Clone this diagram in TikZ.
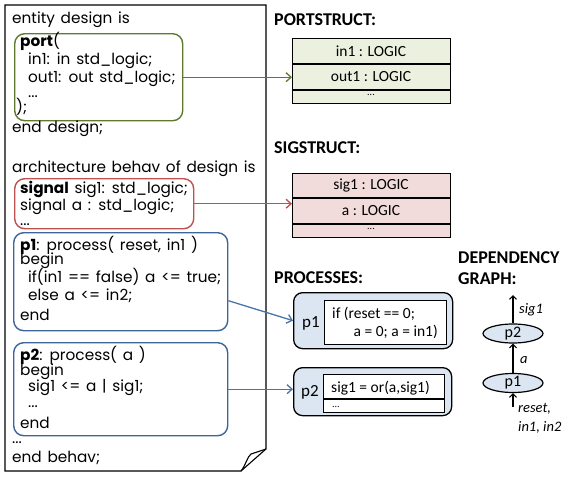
\documentclass[tikz,border=0pt]{standalone}
\usepackage{fontspec}
\setmainfont{Carlito}
\newfontfamily\codefont[WordSpace=1.4]{Poppins}
\usetikzlibrary{arrows.meta,shapes.geometric}

\definecolor{portgreen}{HTML}{5E7A2F}
\definecolor{sigred}{HTML}{C0504D}
\definecolor{procblue}{HTML}{3D6598}
\definecolor{arrowblue}{HTML}{4A74A8}
\definecolor{portfill}{HTML}{EBF1DE}
\definecolor{sigfill}{HTML}{F2DCDB}
\definecolor{procfill}{HTML}{DCE6F2}

\tikzset{
  code/.style={anchor=base west, inner sep=0pt, font=\codefont\fontsize{15.3}{17}\selectfont},
  codebox/.style={draw=#1, line width=1.4pt, rounded corners=10pt, anchor=north west, inner sep=0pt},
  heading/.style={anchor=base west, inner sep=0pt, font=\bfseries\fontsize{18}{20}\selectfont},
  tabtext/.style={inner sep=0pt, font=\fontsize{15.5}{17}\selectfont},
  tabbox/.style={draw=black, line width=1.3pt, anchor=north west, inner sep=0pt, fill=#1},
  procbox/.style={draw=black, line width=1.3pt, rounded corners=9pt, anchor=north west, inner sep=0pt, fill=procfill},
  innerbox/.style={draw=black, line width=1.3pt, anchor=north west, inner sep=0pt, fill=white},
  link/.style={line width=1.3pt, -{Straight Barb[length=5pt,width=9pt,line width=1.3pt]}},
  dep/.style={line width=1.1pt, -{Straight Barb[length=3.5pt,width=7pt,line width=1.1pt]}},
  depnode/.style={ellipse, draw=black, line width=1.2pt, fill=procfill, minimum width=60pt, minimum height=19pt, inner sep=0pt, font=\fontsize{16}{18}\selectfont},
  deplabel/.style={anchor=base west, inner sep=0pt, font=\itshape\fontsize{14.5}{16}\selectfont},
}

\begin{document}
\begin{tikzpicture}[x=1pt,y=-1pt]
\useasboundingbox (0,0) rectangle (566,477);

% source file sheet with a folded corner
\draw[line width=1.1pt, fill=white] (5,5) -- (266,5) -- (266,449) -- (241,471) -- (5,471) -- cycle;
\draw[line width=1.1pt] (266,449) -- (251,454) .. controls (247,457) and (246,465) .. (241,471);

% framed regions of the source
\node[codebox=portgreen, minimum width=168pt, minimum height=87pt] (portbox) at (14,33) {};
\node[codebox=sigred, minimum width=179pt, minimum height=50pt] (sigbox) at (14,178) {};
\node[codebox=procblue, minimum width=214pt, minimum height=98pt] (p1code) at (13,232) {};
\node[codebox=procblue, minimum width=214pt, minimum height=93pt] (p2code) at (13,342) {};

% source text
\node[code] (l1) at (12,23) {entity design is};
\node[code] (l2) at (20,46) {\textbf{port}(};
\node[code] (l3) at (28,64) {in1: in std\_logic;};
\node[code] (l4) at (28,82) {out1: out std\_logic;};
\node[code] (l5) at (28,97) {...};
\node[code] (l6) at (16,112) {);};
\node[code] (l7) at (12,132) {end design;};
\node[code] (l8) at (12,172) {architecture behav of design is};
\node[code] (l9) at (20,193) {\textbf{signal} sig1: std\_logic;};
\node[code] (l10) at (20,210) {signal a : std\_logic;};
\node[code] (l11) at (20,225) {...};
\node[code] (l12) at (20,250) {\textbf{p1}: process( reset, in1 )};
\node[code] (l13) at (20,264) {begin};
\node[code] (l14) at (28,282) {if(in1 == false) a <= true;};
\node[code] (l15) at (28,300) {else a <= in2;};
\node[code] (l16) at (20,320) {end};
\node[code] (l17) at (20,360) {\textbf{p2}: process( a )};
\node[code] (l18) at (20,375) {begin};
\node[code] (l19) at (28,391) {sig1 <= a | sig1;};
\node[code] (l20) at (28,407) {...};
\node[code] (l21) at (20,428) {end};
\node[code] (l22) at (12,443) {...};
\node[code] (l23) at (12,462) {end behav;};

% PORTSTRUCT table
\node[heading] (porthead) at (274,25) {PORTSTRUCT:};
\node[tabbox=portfill, minimum width=158pt, minimum height=65pt] (porttab) at (292,38) {};
\draw[line width=1.3pt] (292,64) -- (450,64) (292,90) -- (450,90);
\node[tabtext] (pr1) at (371,51) {in1 : LOGIC};
\node[tabtext] (pr2) at (371,77) {out1 : LOGIC};
\node[tabtext, font=\fontsize{10}{11}\selectfont] (pr3) at (371,95) {...};

% SIGSTRUCT table
\node[heading] (sighead) at (274,153) {SIGSTRUCT:};
\node[tabbox=sigfill, minimum width=158pt, minimum height=64pt] (sigtab) at (292,173) {};
\draw[line width=1.3pt] (292,198) -- (450,198) (292,224) -- (450,224);
\node[tabtext] (sr1) at (371,185.5) {sig1 : LOGIC};
\node[tabtext] (sr2) at (371,211) {a : LOGIC};
\node[tabtext, font=\fontsize{10}{11}\selectfont] (sr3) at (371,229) {...};

% PROCESSES
\node[heading] (prochead) at (274,283) {PROCESSES:};
\node[procbox, minimum width=159pt, minimum height=56pt] (proc1) at (293,292) {};
\node[innerbox, minimum width=122pt, minimum height=44pt] (proc1in) at (324,300) {};
\node[tabtext, font=\fontsize{17}{19}\selectfont] (proc1name) at (311,323) {p1};
\node[tabtext, anchor=base west] (proc1a) at (332,318) {if (reset == 0;};
\node[tabtext, anchor=base east] (proc1b) at (438,336) {a = 0; a = in1)};

\node[procbox, minimum width=158pt, minimum height=48pt] (proc2) at (293,367) {};
\node[innerbox, minimum width=121pt, minimum height=38pt] (proc2in) at (323,374) {};
\draw[line width=1.3pt] (323,399) -- (444,399);
\node[tabtext, font=\fontsize{17}{19}\selectfont] (proc2name) at (310,392) {p2};
\node[tabtext, anchor=base west] (proc2a) at (331,392) {sig1 = or(a,sig1)};
\node[tabtext, anchor=base west, font=\fontsize{10}{11}\selectfont] (proc2b) at (332,407) {...};

% links from the source to the structures
\draw[link, portgreen] (portbox.east) -- (portbox.east -| porttab.west);
\draw[link, sigred] (sigbox.east) -- (sigbox.east -| sigtab.west);
\draw[link, arrowblue] ([yshift=-19pt]p1code.east) -- (proc1.west);
\draw[link, arrowblue] (p2code.east) -- (p2code.east -| proc2.west);

% DEPENDENCY GRAPH
\node[heading] (dephead1) at (458,263) {DEPENDENCY};
\node[heading] (dephead2) at (458,284) {GRAPH:};
\node[depnode] (dp2) at (513,333.5) {p2};
\node[depnode] (dp1) at (513,383) {p1};
\coordinate (depout) at (513,295);
\coordinate (depin) at (513,407);
\draw[dep] (dp2.north) -- (depout);
\draw[dep] (dp1.north) -- (dp2.south);
\draw[dep] (depin) -- (dp1.south);
\node[deplabel] (ls1) at (519,313) {sig1};
\node[deplabel] (la) at (520,363) {a};
\node[deplabel] (lr) at (518,412) {reset,};
\node[deplabel] (li) at (518,431) {in1, in2};
\end{tikzpicture}
\end{document}
